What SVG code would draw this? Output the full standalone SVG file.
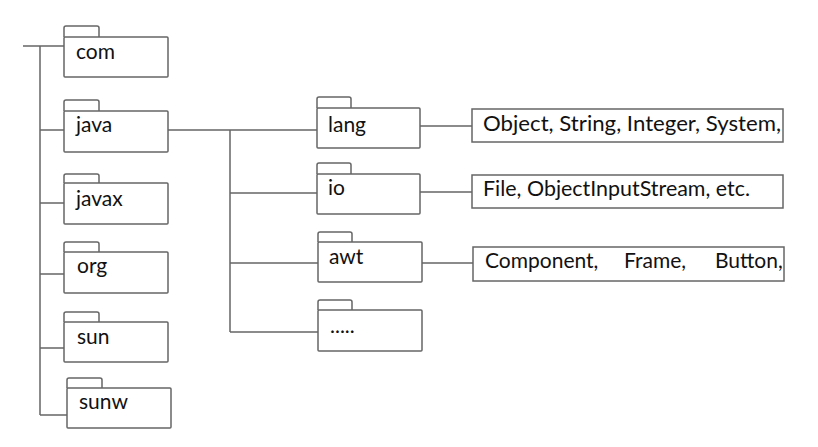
<svg xmlns="http://www.w3.org/2000/svg" width="818" height="447" viewBox="0 0 818 447">
<style>
.ln{stroke:#666;stroke-width:1.5;fill:none}
.box{stroke:#666;stroke-width:1.5;fill:#fff}
.t{font-family:Lato,"Open Sans",sans-serif;font-size:21px;fill:#111}
</style>
<rect width="818" height="447" fill="#fff"/>
<g id="connectors">
<path class="ln" d="M23 46H64M40 46V415M40 130H64M40 203H64M40 274H64M40 348H64M40 415H67"/>
<path class="ln" d="M168 130H317M230 130V332M230 193H317M230 263H318M230 332H318"/>
<path class="ln" d="M420 126H472M420 192H472M422 263H473"/>
</g>
<g id="com"><path class="box" d="M64 37V28Q64 26 66 26H97Q99 26 99 28V37"/><rect class="box" x="64" y="37" width="104" height="40" rx="1"/><text class="t" x="76" y="59">com</text></g>
<g id="java"><path class="box" d="M64 111V102Q64 100 66 100H97Q99 100 99 102V111"/><rect class="box" x="64" y="111" width="104" height="41" rx="1"/><text class="t" x="76" y="132">java</text></g>
<g id="javax"><path class="box" d="M64 183V176Q64 174 66 174H97Q99 174 99 176V183"/><rect class="box" x="64" y="183" width="104" height="41" rx="1"/><text class="t" x="76" y="206">javax</text></g>
<g id="org"><path class="box" d="M64 252V244Q64 242 66 242H97Q99 242 99 244V252"/><rect class="box" x="64" y="252" width="104" height="41" rx="1"/><text class="t" x="77" y="273">org</text></g>
<g id="sun"><path class="box" d="M64 322V314Q64 312 66 312H97Q99 312 99 314V322"/><rect class="box" x="64" y="322" width="104" height="40" rx="1"/><text class="t" x="77" y="344">sun</text></g>
<g id="sunw"><path class="box" d="M67 388V380Q67 378 69 378H100Q102 378 102 380V388"/><rect class="box" x="67" y="388" width="104" height="40" rx="1"/><text class="t" x="79" y="409">sunw</text></g>
<g id="lang"><path class="box" d="M317 108V99Q317 97 319 97H349Q351 97 351 99V108"/><rect class="box" x="317" y="108" width="103" height="40" rx="1"/><text class="t" x="328" y="132">lang</text></g>
<g id="io"><path class="box" d="M317 174V165Q317 163 319 163H349Q351 163 351 165V174"/><rect class="box" x="317" y="174" width="103" height="40" rx="1"/><text class="t" x="328" y="195">io</text></g>
<g id="awt"><path class="box" d="M318 242V234Q318 232 320 232H350Q352 232 352 234V242"/><rect class="box" x="318" y="242" width="104" height="40" rx="1"/><text class="t" x="329" y="264">awt</text></g>
<g id="more"><path class="box" d="M318 310V302Q318 300 320 300H350Q352 300 352 302V310"/><rect class="box" x="318" y="310" width="104" height="41" rx="1"/><text class="t" x="330" y="333">.....</text></g>
<g id="lang-classes"><rect class="box" x="472" y="109" width="311" height="33"/><text class="t" x="483" y="131" textLength="298" lengthAdjust="spacingAndGlyphs">Object, String, Integer, System,</text></g>
<g id="io-classes"><rect class="box" x="472" y="175" width="311" height="33"/><text class="t" x="483" y="196" textLength="267" lengthAdjust="spacingAndGlyphs">File, ObjectInputStream, etc.</text></g>
<g id="awt-classes"><rect class="box" x="473" y="247" width="311" height="34"/><text class="t" y="268"><tspan x="485">Component,</tspan><tspan x="624">Frame,</tspan><tspan x="715">Button,</tspan></text></g>
</svg>
